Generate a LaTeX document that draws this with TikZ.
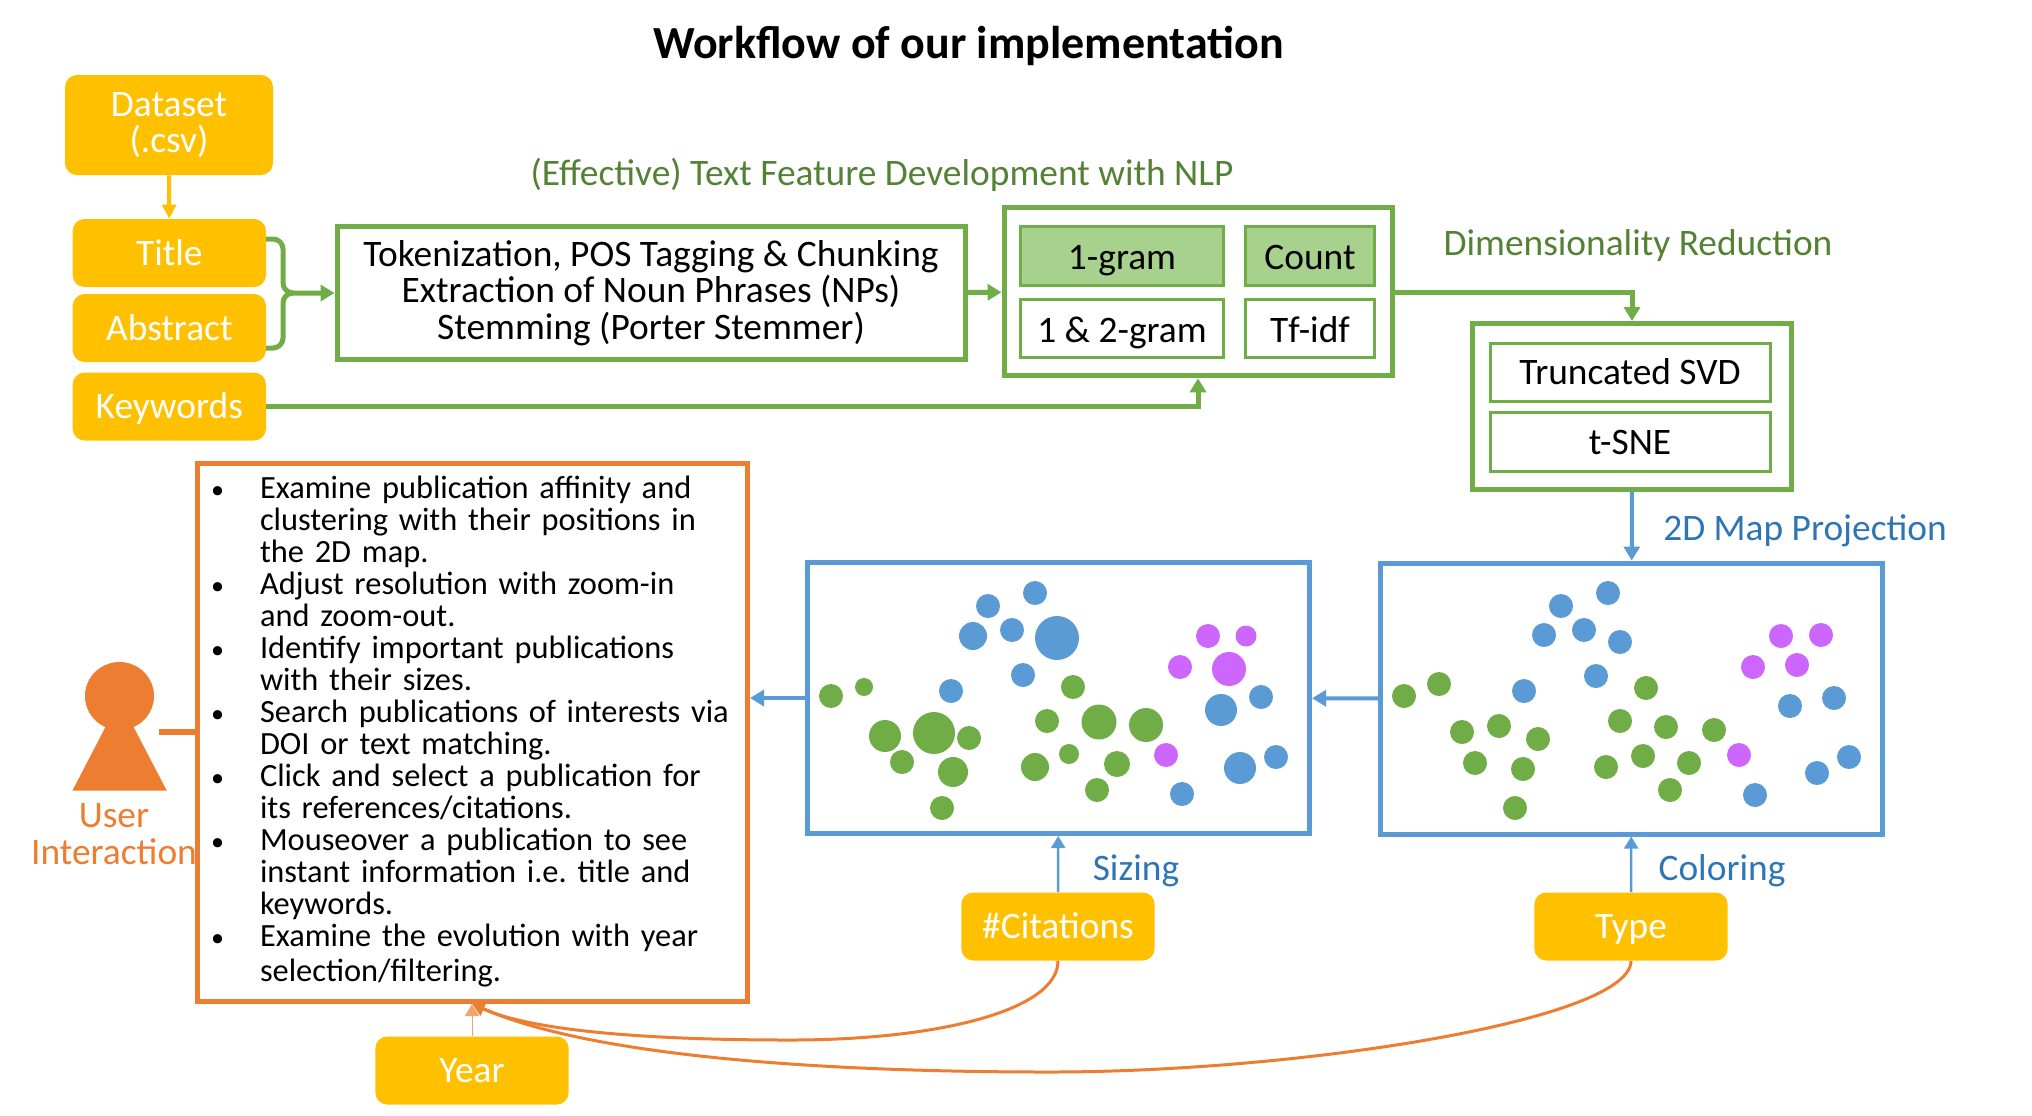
\documentclass[tikz,border=0pt]{standalone}
\usepackage{fontspec}
\setmainfont{Carlito}
\usepackage{xcolor}
\usetikzlibrary{positioning, arrows.meta, shapes}

\definecolor{dsyellow}{HTML}{FFC000}
\definecolor{stepgreen}{HTML}{70AD47}
\definecolor{lightgreen}{HTML}{A9D18E}
\definecolor{labelgreen}{HTML}{548235}
\definecolor{mapblue}{HTML}{5B9BD5}
\definecolor{labelblue}{HTML}{2E75B6}
\definecolor{userorange}{HTML}{ED7D31}
\definecolor{dotpurple}{HTML}{CC66FF}

\tikzset{
    body/.style={font=\fontsize{18.7}{18.2}\selectfont, align=center},
    field/.style={body, fill=dsyellow, text=white, rounded corners=6pt, minimum width=96.7pt, minimum height=34pt, text height=12pt, text depth=0pt, inner sep=0pt},
    stepbox/.style={body, draw=stepgreen, line width=2.5pt, fill=white, inner sep=0pt},
    cell/.style={body, draw=stepgreen, line width=1.5pt, fill=white, inner sep=0pt, text height=12pt, text depth=0pt},
    mapbox/.style={draw=mapblue, line width=2.5pt, fill=white, minimum width=251pt, minimum height=135.5pt, inner sep=0pt},
    steplabel/.style={body, text=labelgreen, inner sep=0pt},
    maplabel/.style={body, text=labelblue, inner sep=0pt},
    greenline/.style={draw=stepgreen, line width=2.5pt, -{Triangle[length=7pt, width=8pt]}},
    blueline/.style={draw=mapblue, line width=2pt, -{Triangle[length=7pt, width=8pt]}},
    thinblue/.style={draw=mapblue, line width=1.2pt, -{Triangle[length=6pt, width=7pt]}},
    usercurve/.style={draw=userorange, line width=1.5pt, -{Triangle[length=6pt, width=7pt]}},
}

\begin{document}
\begin{tikzpicture}[x=0.5pt, y=-0.5pt]
    \useasboundingbox (0,0) rectangle (2032,1115);

    % --- Title and section labels ---
    \node[inner sep=0pt, font=\fontsize{23}{27}\selectfont\bfseries] (title) at (968.5,45.5) {Workflow of our implementation};
    \node[steplabel] (nlplabel) at (882,174.5) {(Effective) Text Feature Development with NLP};
    \node[steplabel] (dimlabel) at (1638,245.5) {Dimensionality Reduction};
    \node[maplabel] (projlabel) at (1805,531) {2D Map Projection};
    \node[maplabel] (sizelabel) at (1136,871) {Sizing};
    \node[maplabel] (colorlabel) at (1722,871) {Coloring};

    % --- Data fields ---
    \node[field, minimum width=104pt, minimum height=50pt, text height=, text depth=] (dataset) at (169,125) {Dataset\\(.csv)};
    \node[field] (titlefield) at (169.3,253) {Title};
    \node[field] (abstract) at (169.3,328) {Abstract};
    \node[field] (keywords) at (169.3,406.5) {Keywords};
    \node[field] (cites) at (1058,926.5) {\#Citations};
    \node[field] (typefield) at (1631,926.5) {Type};
    \node[field] (yearfield) at (472,1070.5) {Year};

    % --- Text processing ---
    \node[stepbox, minimum width=314pt, minimum height=66.5pt] (tokens) at (651,293)
        {Tokenization, POS Tagging \& Chunking\\Extraction of Noun Phrases (NPs)\\Stemming (Porter Stemmer)};

    % --- Feature options ---
    \node[stepbox, minimum width=194pt, minimum height=84pt] (features) at (1198,291.8) {};
    \node[cell, fill=lightgreen, text height=13pt, minimum width=101.5pt, minimum height=29.5pt] (onegram) at (1122,256.2) {1-gram};
    \node[cell, fill=lightgreen, text height=13pt, minimum width=64.5pt, minimum height=29.5pt] (count) at (1310,256.2) {Count};
    \node[cell, text height=14pt, minimum width=101.5pt, minimum height=29pt] (twogram) at (1122,328.5) {1 \& 2-gram};
    \node[cell, text height=14pt, minimum width=64.5pt, minimum height=29pt] (tfidf) at (1310,328.5) {Tf-idf};

    % --- Dimensionality reduction ---
    \node[stepbox, minimum width=159.5pt, minimum height=83pt] (reduction) at (1632,406.5) {};
    \node[cell, minimum width=140pt, minimum height=29pt] (svd) at (1630,372.5) {Truncated SVD};
    \node[cell, text height=13pt, minimum width=140pt, minimum height=29.5pt] (tsne) at (1630,441.5) {t-SNE};

    % --- Map panels ---
    \node[mapbox] (sizemap) at (1058.5,698) {};
    \node[mapbox] (colormap) at (1631.5,698.5) {};

    % sized panel
    \foreach \px/\py/\pr in {1035/593/12, 988/606/12, 973/636/14, 1012/630/12, 1057/638/22, 1023/675/12, 951/691/12,
        1261/697/12, 1221/710/16, 1276/757/12, 1240/768/16, 1182/794/12}
        \fill[mapblue] (\px,\py) circle (\pr);
    \foreach \px/\py/\pr in {831/696/12, 864/687/9, 885/736/16, 934/733/21, 969/738/12, 902/762/12, 953/772/15, 942/808/12,
        1073/687/12, 1047/721/12, 1099/722/17.5, 1146/725/17, 1069/754/10, 1117/764/13, 1035/767/14, 1097/790/12}
        \fill[stepgreen] (\px,\py) circle (\pr);
    \foreach \px/\py/\pr in {1208/636/12, 1246/636/10.5, 1180/667/12, 1229/669/17, 1166/755/12}
        \fill[dotpurple] (\px,\py) circle (\pr);

    % colored panel
    \foreach \px/\py in {1608/593, 1561/606, 1544/635, 1584/630, 1620/642, 1596/676, 1524/691,
        1790/706, 1834/698, 1849/757, 1817/773, 1755/795}
        \fill[mapblue] (\px,\py) circle (12);
    \foreach \px/\py in {1404/696, 1439/684, 1462/732, 1499/726, 1538/739, 1475/763, 1523/769, 1515/808,
        1646/688, 1620/721, 1666/727, 1714/730, 1643/756, 1689/763, 1606/767, 1670/790}
        \fill[stepgreen] (\px,\py) circle (12);
    \foreach \px/\py in {1781/636, 1821/635, 1753/667, 1797/665, 1739/755}
        \fill[dotpurple] (\px,\py) circle (12);

    % --- User interaction ---
    \fill[userorange] (72.4,790.7) -- (119.5,700) -- (166.8,790.7) -- cycle;
    \fill[userorange] (119.5,696) ellipse (34.5 and 34);
    \coordinate (userhand) at (159,731.7);
    \node[body, text=userorange, inner sep=0pt] (userlabel) at (114,834) {User\\Interaction};
    \node[body, draw=userorange, line width=2.5pt, fill=white, text=black, inner sep=0pt, align=left,
        text width=275pt, minimum height=269pt, font=\fontsize{16.2}{16}\selectfont] (userbox) at (472.5,732.5) {%
        \frenchspacing
        \begin{list}{\fontsize{13}{16}\selectfont\textbullet}{\setlength{\leftmargin}{31.25pt}\setlength{\labelwidth}{10pt}\setlength{\labelsep}{18pt}%
            \setlength{\itemsep}{0pt}\setlength{\parsep}{0pt}\setlength{\topsep}{0pt}\setlength{\partopsep}{0pt}\setlength{\itemindent}{0pt}}
        \item Examine publication affinity and\\clustering with their positions in\\the 2D map.
        \item Adjust resolution with zoom-in\\and zoom-out.
        \item Identify important publications\\with their sizes.
        \item Search publications of interests via\\DOI or text matching.
        \item Click and select a publication for\\its references/citations.
        \item Mouseover a publication to see\\instant information i.e. title and\\keywords.
        \item Examine the evolution with year\\[1.5pt]selection/filtering.
        \end{list}\par\vspace{5.4pt}};

    % --- Connectors ---
    \draw[draw=dsyellow, line width=2pt, -{Triangle[length=7pt, width=7pt]}] (dataset) -- (titlefield);
    \coordinate (titleout) at (266,239);
    \coordinate (abstractout) at (266,348);
    \coordinate (merge) at (283,293);
    \draw[draw=stepgreen, line width=2.5pt, rounded corners=5pt] (titleout) -- (merge |- titleout) -- (merge) -- (292,293);
    \draw[greenline, rounded corners=5pt] (abstractout) -- (merge |- abstractout) -- (merge) -- (tokens.west);
    \draw[greenline] (tokens) -- (features);
    \draw[greenline] (keywords.east) -| (features.south);
    \draw[greenline] (features.east |- 0,292) -| (reduction.north);
    \draw[blueline] (reduction) -- (colormap);
    \draw[blueline] (colormap) -- (sizemap);
    \draw[blueline] (sizemap.west) -- (userbox.east |- sizemap.west);
    \draw[thinblue] (cites) -- (sizemap);
    \draw[thinblue] (typefield) -- (colormap);
    \draw[draw=userorange, line width=2.8pt] (userhand) -- (userbox.west |- userhand);
    \draw[draw=userorange!70, line width=0.5pt, -{Triangle[length=6pt, width=7pt]}] (yearfield) -- (userbox.south -| yearfield);
    \draw[usercurve] (cites.south) .. controls (1058,1010) and (940,1040) .. (790,1040) .. controls (640,1040) and (530,1030) .. (userbox.south);
    \draw[usercurve] (typefield.south) .. controls (1631,1020) and (1300,1072) .. (1050,1072) .. controls (850,1072) and (600,1060) .. (userbox.south);
\end{tikzpicture}
\end{document}
